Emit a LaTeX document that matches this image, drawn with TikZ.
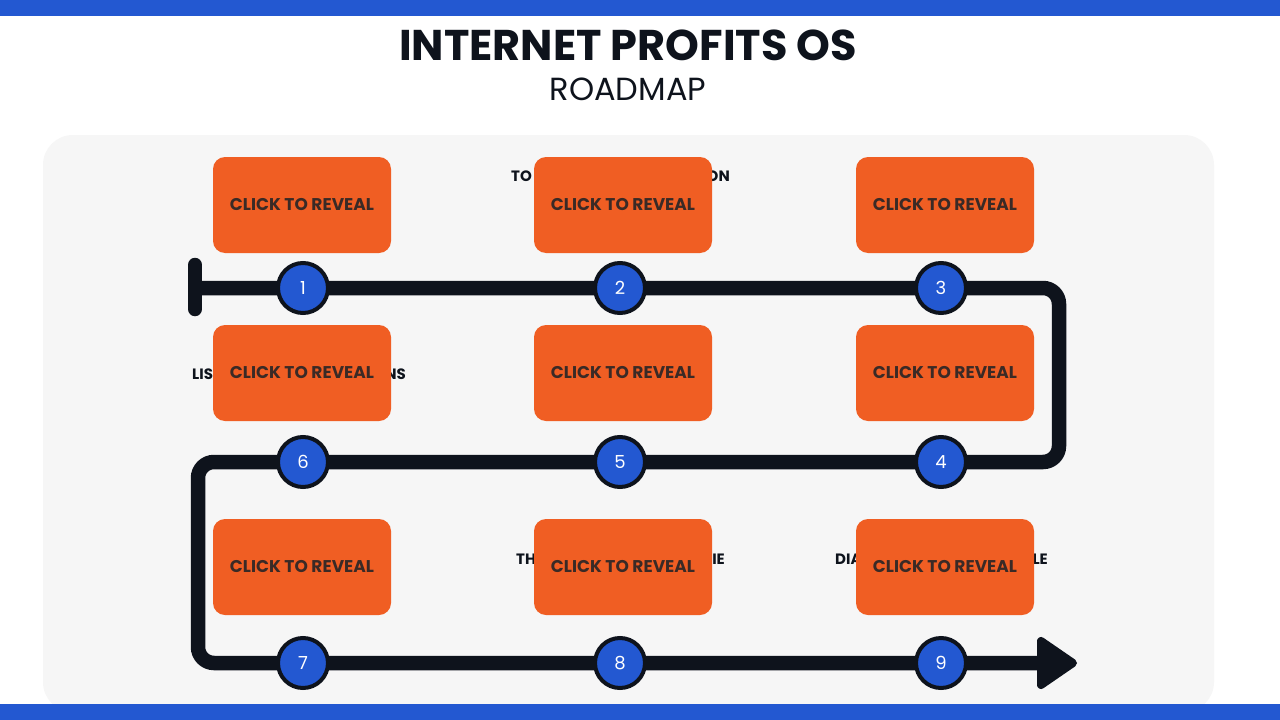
\documentclass[tikz,border=0pt]{standalone}
\usepackage{fontspec}
\setmainfont{Poppins}
\usetikzlibrary{arrows.meta}
\definecolor{barblue}{HTML}{2358D1}
\definecolor{dotblue}{HTML}{2358D1}
\definecolor{boxorange}{HTML}{F05E23}
\definecolor{roaddark}{HTML}{0E131C}
\definecolor{panelgray}{HTML}{F6F6F6}
\definecolor{labeldark}{HTML}{3A2A26}
\tikzset{
  road/.style={draw=roaddark, line width=14.5pt, rounded corners=16pt},
  revealbox/.style={fill=boxorange, draw=none, rounded corners=12pt, minimum width=178pt, minimum height=96pt, font=\fontsize{17}{19}\selectfont\bfseries, text=labeldark, inner sep=0pt},
  stepdot/.style={circle, fill=dotblue, draw=roaddark, line width=4pt, minimum size=50pt, inner sep=0pt, text=white, font=\fontsize{18}{20}\selectfont},
  hiddenlbl/.style={font=\fontsize{15}{17}\selectfont\bfseries, text=roaddark, inner sep=0pt},
  headtip/.style={fill=roaddark, draw=roaddark, line width=8pt, line join=round},
}
\begin{document}
\begin{tikzpicture}[x=1pt,y=-1pt]
\useasboundingbox (0,0) rectangle (1280,720);
\fill[white] (0,0) rectangle (1280,720);
% panel
\fill[panelgray, rounded corners=30pt] (43,135) rectangle (1214,712);
% bars
\fill[barblue] (0,0) rectangle (1280,16);
\fill[barblue] (0,704) rectangle (1280,720);
% titles
\node[font=\fontsize{43}{46}\selectfont\bfseries, text=roaddark] (title) at (628,45) {INTERNET PROFITS OS};
\node[font=\fontsize{32}{35}\selectfont, text=roaddark] (subtitle) at (628,89) {ROADMAP};
% road
\coordinate (stop) at (195,265);
\coordinate (sbot) at (195,309);
\coordinate (s) at (195,288);
\coordinate (r1) at (1059,288);
\coordinate (r2) at (1059,462);
\coordinate (l1) at (198,462);
\coordinate (l2) at (198,663);
\coordinate (e) at (1045,663);
\coordinate (t1) at (1041,641);
\coordinate (t2) at (1073,663);
\coordinate (t3) at (1041,685);
\draw[road, line cap=round, rounded corners=0pt] (stop) -- (sbot);
\draw[road] (s) -- (r1) -- (r2) -- (l1) -- (l2) -- (e);
\filldraw[headtip] (t1) -- (t2) -- (t3) -- cycle;
% hidden label fragments
\node[hiddenlbl, anchor=west] (h2a) at (511,176) {TO};
\node[hiddenlbl, anchor=east] (h2b) at (730,176) {ON};
\node[hiddenlbl, anchor=west] (h6a) at (192,374) {LIS};
\node[hiddenlbl, anchor=east] (h6b) at (406,374) {NS};
\node[hiddenlbl, anchor=west] (h8a) at (516,559) {TH};
\node[hiddenlbl, anchor=east] (h8b) at (725,559) {IE};
\node[hiddenlbl, anchor=west] (h9a) at (835,559) {DIA};
\node[hiddenlbl, anchor=east] (h9b) at (1048,559) {LE};
% boxes
\node[revealbox] (b1) at (302,205) {CLICK TO REVEAL};
\node[revealbox] (b2) at (623,205) {CLICK TO REVEAL};
\node[revealbox] (b3) at (945,205) {CLICK TO REVEAL};
\node[revealbox] (b6) at (302,373) {CLICK TO REVEAL};
\node[revealbox] (b5) at (623,373) {CLICK TO REVEAL};
\node[revealbox] (b4) at (945,373) {CLICK TO REVEAL};
\node[revealbox] (b7) at (302,567) {CLICK TO REVEAL};
\node[revealbox] (b8) at (623,567) {CLICK TO REVEAL};
\node[revealbox] (b9) at (945,567) {CLICK TO REVEAL};
% dots
\node[stepdot] (c1) at (303,288) {1};
\node[stepdot] (c2) at (620,288) {2};
\node[stepdot] (c3) at (941,288) {3};
\node[stepdot] (c6) at (303,462) {6};
\node[stepdot] (c5) at (620,462) {5};
\node[stepdot] (c4) at (941,462) {4};
\node[stepdot] (c7) at (303,663) {7};
\node[stepdot] (c8) at (620,663) {8};
\node[stepdot] (c9) at (941,663) {9};
\end{tikzpicture}
\end{document}
